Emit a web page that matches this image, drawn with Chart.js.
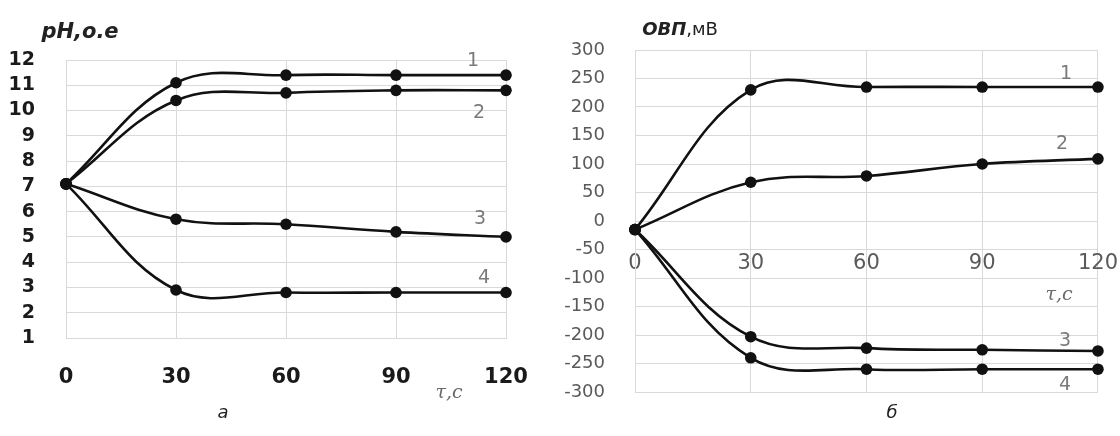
<!DOCTYPE html>
<html>
<head>
<meta charset="utf-8">
<script src="https://cdn.jsdelivr.net/npm/chart.js@4/dist/chart.umd.min.js"></script>
<style>
  body { margin: 0; background: #fff; width: 1120px; height: 436px; position: relative; overflow: hidden; font-family: "DejaVu Sans", sans-serif; }
  canvas { position: absolute; top: 0; }
  .lbl { position: absolute; transform: translate(-50%, -50%); white-space: nowrap; line-height: 1; }
  .num { color: #7a7a7a; font-size: 19px; }
  .tau { color: #6a6a6a; font-family: "DejaVu Serif", serif; font-style: italic; font-size: 19px; }
</style>
</head>
<body>
<canvas id="phChart" width="560" height="436" style="left:0"></canvas>
<canvas id="orpChart" width="588" height="436" style="left:560px"></canvas>

<div class="lbl" style="left:80px;top:31px;font-weight:bold;font-style:italic;font-size:21px;color:#222">pH,o.e</div>
<div class="lbl" style="left:680px;top:29px;font-size:18px;color:#222"><b><i>ОВП</i></b>,мВ</div>

<div class="lbl num" style="left:473px;top:59px">1</div>
<div class="lbl num" style="left:479px;top:111px">2</div>
<div class="lbl num" style="left:480px;top:217px">3</div>
<div class="lbl num" style="left:484px;top:276px">4</div>
<div class="lbl num" style="left:1066px;top:72px">1</div>
<div class="lbl num" style="left:1062px;top:142px">2</div>
<div class="lbl num" style="left:1065px;top:339px">3</div>
<div class="lbl num" style="left:1065px;top:383px">4</div>

<div class="lbl tau" style="left:449px;top:391px">τ,с</div>
<div class="lbl tau" style="left:1059px;top:293px">τ,с</div>

<div class="lbl" style="left:223px;top:412px;font-style:italic;font-size:18px;color:#222">а</div>
<div class="lbl" style="left:892px;top:412px;font-style:italic;font-size:18px;color:#222">б</div>

<script>
// time, s
const times = [0, 30, 60, 90, 120];

// pH, o.e (chart a)
const ph1 = [7.1, 11.1, 11.4, 11.4, 11.4];
const ph2 = [7.1, 10.4, 10.7, 10.8, 10.8];
const ph3 = [7.1, 5.7, 5.5, 5.2, 5.0];
const ph4 = [7.1, 2.9, 2.8, 2.8, 2.8];

// ORP, mV (chart б)
const orp1 = [-15, 230, 235, 235, 235];
const orp2 = [-15, 68, 79, 100, 109];
const orp3 = [-15, -203, -223, -226, -228];
const orp4 = [-15, -240, -260, -260, -260];

const phTicks = [1, 12, 1];      // min, max, step
const orpTicks = [-300, 300, 50];
const timeTicks = [0, 120, 30];

const GRID = '#d9d9d9';

function toPoints(ys) {
    return times.map((t, i) => ({ x: t, y: ys[i] }));
}

function series(ys) {
    return {
        data: toPoints(ys),
        borderColor: '#111',
        backgroundColor: '#111',
        borderWidth: 2.6,
        pointRadius: 5.8,
        pointBackgroundColor: '#111',
        pointBorderWidth: 0,
        tension: 0.38,
        clip: false
    };
}

// chart a
new Chart(document.getElementById('phChart'), {
    type: 'line',
    data: { datasets: [ph1, ph2, ph3, ph4].map(series) },
    options: {
        responsive: false,
        animation: false,
        layout: { padding: { left: 0, right: 54, top: 60, bottom: 38 } },
        plugins: { legend: { display: false }, tooltip: { enabled: false } },
        scales: {
            x: {
                type: 'linear',
                min: timeTicks[0], max: timeTicks[1],
                grid: { color: GRID, drawTicks: false },
                border: { color: GRID },
                ticks: { stepSize: timeTicks[2], padding: 27, color: '#1a1a1a',
                         font: { family: 'DejaVu Sans', weight: 'bold', size: 21 } },
                afterFit(scale) { scale.height = 60; }
            },
            y: {
                min: phTicks[0], max: phTicks[1],
                grid: { color: GRID, drawTicks: false },
                border: { color: GRID },
                ticks: { stepSize: phTicks[2], padding: 31, color: '#1a1a1a', autoSkip: false,
                         font: { family: 'DejaVu Sans', weight: 'bold', size: 19 } },
                afterFit(scale) { scale.width = 66; }
            }
        }
    }
});

// chart б
new Chart(document.getElementById('orpChart'), {
    type: 'line',
    data: { datasets: [orp1, orp2, orp3, orp4].map(series) },
    options: {
        responsive: false,
        animation: false,
        layout: { padding: { left: 0, right: 23, top: 50, bottom: 44 } },
        plugins: { legend: { display: false }, tooltip: { enabled: false } },
        scales: {
            x: {
                type: 'linear',
                position: { y: 0 },
                min: timeTicks[0], max: timeTicks[1],
                grid: { color: GRID, drawTicks: false },
                border: { display: false },
                ticks: { stepSize: timeTicks[2], padding: 30, color: '#5a5a5a',
                         font: { family: 'DejaVu Sans', size: 21 } }
            },
            y: {
                min: orpTicks[0], max: orpTicks[1],
                grid: { color: GRID, drawTicks: false },
                border: { color: GRID },
                ticks: { stepSize: orpTicks[2], padding: 30, color: '#5a5a5a', autoSkip: false,
                         font: { family: 'DejaVu Sans', size: 18 } },
                afterFit(scale) { scale.width = 75; }
            }
        }
    }
});
</script>
</body>
</html>
